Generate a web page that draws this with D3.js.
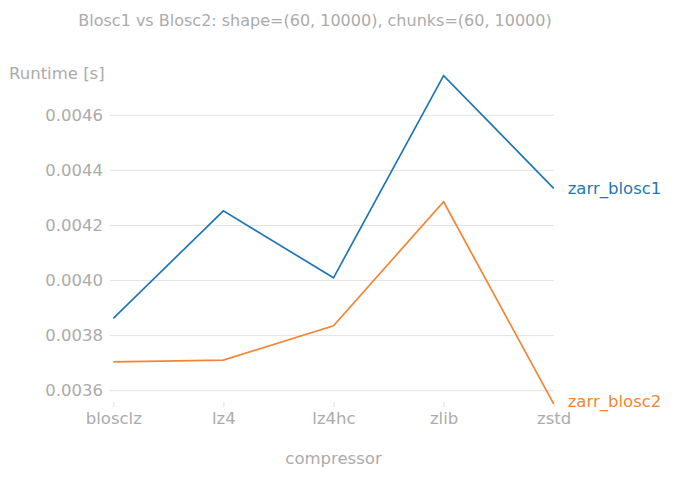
<!DOCTYPE html>
<html>
<head>
<meta charset="utf-8">
<script src="https://cdn.jsdelivr.net/npm/d3@7"></script>
<style>
  body { margin: 0; background: #fff; }
  text { font-family: "DejaVu Sans", sans-serif; }
</style>
</head>
<body>
<div class="graph-runtime"><svg></svg></div>
<script>
// data
const compressors = ['blosclz', 'lz4', 'lz4hc', 'zlib', 'zstd']
const seriesNames = ['zarr_blosc1', 'zarr_blosc2']
const blosc1Runtime = [0.003863, 0.004253, 0.004010, 0.004744, 0.004335]
const blosc2Runtime = [0.003705, 0.003711, 0.003836, 0.004286, 0.003552]
const yTicks = [0.0036, 0.0038, 0.0040, 0.0042, 0.0044, 0.0046]
const seriesColors = ['#1f77b4', '#f28535']

const width = 680
const height = 481
const grey = '#ababab'

const svg = d3.select('.graph-runtime').select('svg')
  .attr('width', width)
  .attr('height', height)

const xScale = d3.scalePoint()
  .domain(compressors)
  .range([113.3, 553.7])

const yScale = d3.scaleLinear()
  .domain([0.0036, 0.0046])
  .range([390.7, 115.3])

const color = d3.scaleOrdinal().domain(seriesNames).range(seriesColors)

// grid lines
svg.append('g')
  .attr('class', 'grid')
  .selectAll('line')
  .data(yTicks)
  .join('line')
  .attr('x1', 110)
  .attr('x2', xScale('zstd'))
  .attr('y1', d => yScale(d))
  .attr('y2', d => yScale(d))
  .attr('stroke', '#e3e3e3')
  .attr('stroke-width', 1)

// y axis labels
const yAxis = svg.append('g')
  .attr('class', 'y axis')
  .attr('transform', 'translate(110, 0)')
  .call(d3.axisLeft(yScale).tickValues(yTicks).tickFormat(d3.format('.4f')).tickSize(0).tickPadding(7))
yAxis.select('.domain').remove()
yAxis.selectAll('text')
  .attr('fill', grey)
  .attr('font-size', 16.5)

// x axis
const xAxis = svg.append('g')
  .attr('class', 'x axis')
  .attr('transform', 'translate(0, 402)')
  .call(d3.axisBottom(xScale).tickSize(5).tickPadding(5))
xAxis.select('.domain').remove()
xAxis.selectAll('line').attr('stroke', '#dedede')
xAxis.selectAll('text')
  .attr('fill', grey)
  .attr('font-size', 16.5)

// lines
const series = [
  { name: seriesNames[0], values: blosc1Runtime, dy: '0.35em' },
  { name: seriesNames[1], values: blosc2Runtime, dy: '0.2em' }
]

const line = d3.line()
  .x((d, i) => xScale(compressors[i]))
  .y(d => yScale(d))

svg.append('g')
  .selectAll('path')
  .data(series)
  .join('path')
  .attr('d', d => line(d.values))
  .attr('fill', 'none')
  .attr('stroke', d => color(d.name))
  .attr('stroke-width', 1.7)

// end labels
svg.append('g')
  .selectAll('text')
  .data(series)
  .join('text')
  .text(d => d.name)
  .attr('x', xScale('zstd') + 14)
  .attr('y', d => yScale(d.values[d.values.length - 1]))
  .attr('dy', d => d.dy)
  .attr('fill', d => color(d.name))
  .attr('font-size', 16.5)

// labels and title
svg.append('text')
  .text('Runtime [s]')
  .attr('x', 9)
  .attr('y', 79)
  .attr('fill', grey)
  .attr('font-size', 16.5)

svg.append('text')
  .text('compressor')
  .attr('x', xScale('lz4hc'))
  .attr('y', 464)
  .attr('text-anchor', 'middle')
  .attr('fill', grey)
  .attr('font-size', 16.5)

svg.append('text')
  .text('Blosc1 vs Blosc2: shape=(60, 10000), chunks=(60, 10000)')
  .attr('x', 315)
  .attr('y', 26)
  .attr('text-anchor', 'middle')
  .attr('fill', grey)
  .attr('font-size', 16)
</script>
</body>
</html>
